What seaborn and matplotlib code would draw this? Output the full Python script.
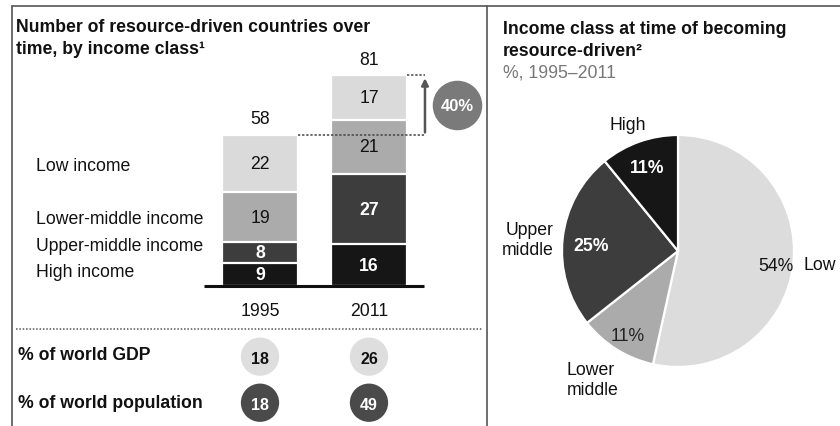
"""Resource-driven countries by income class: stacked bars + pie."""

import matplotlib

matplotlib.use("Agg")

import matplotlib.pyplot as plt
import numpy as np
import pandas as pd
import seaborn as sns
from matplotlib import transforms

# ---- data ----
years = ["1995", "2011"]
income_classes = ["High income", "Upper-middle income", "Lower-middle income", "Low income"]
high_income = [9, 16]
upper_middle = [8, 27]
lower_middle = [19, 21]
low_income = [22, 17]
growth_label = "40%"

gdp_share = [18, 26]
population_share = [18, 49]

pie_labels = ["Low", "Lower\nmiddle", "Upper\nmiddle", "High"]
pie_shares = [54, 11, 25, 11]

# greys, dark to light (bottom to top of the stack)
CLASS_COLOURS = ["#161616", "#3d3d3d", "#ababab", "#dadada"]
VALUE_COLOURS = ["white", "white", "#111111", "#111111"]
PIE_COLOURS = ["#dcdcdc", "#ababab", "#3d3d3d", "#161616"]

W, H = 840, 427
FONT = 12.7

sns.set_theme(style="white")
plt.rcParams["font.family"] = ["Liberation Sans", "DejaVu Sans"]
plt.rcParams["text.color"] = "#111111"


def fx(px):
    return px / W


def fy(px_from_top):
    return 1 - px_from_top / H


fig = plt.figure(figsize=(W / 100, H / 100), dpi=100)

# ---- frame ----
frame_kw = dict(color="#555555", lw=1.2, transform=fig.transFigure)
fig.add_artist(plt.Line2D([fx(12), fx(840)], [fy(7), fy(7)], **frame_kw))
fig.add_artist(plt.Line2D([fx(12), fx(12)], [fy(7), fy(427)], **frame_kw))
fig.add_artist(plt.Line2D([fx(487), fx(487)], [fy(7), fy(427)], **frame_kw))

# ---- stacked bars ----
stack = pd.DataFrame(
    {"year": years, **dict(zip(income_classes, [high_income, upper_middle, lower_middle, low_income]))}
)
cum = stack[income_classes].cumsum(axis=1)
totals = cum[income_classes[-1]]

px_per_unit = 2.6
base_px = 287
bar_ax = fig.add_axes([fx(204), fy(base_px), fx(424) - fx(204), 110 * px_per_unit / H])
# draw cumulative layers from the top down so each lower class overlays the one above
for cls, colour in reversed(list(zip(income_classes, CLASS_COLOURS))):
    sns.barplot(
        x=stack["year"], y=cum[cls], color=colour, width=0.7,
        edgecolor="white", linewidth=1.6, saturation=1, ax=bar_ax,
    )
bar_ax.set_xlim(-0.514, 1.505)
bar_ax.set_ylim(0, 110)
bar_ax.axis("off")
bar_ax.hlines(0, -0.514, 1.505, color="#111111", lw=2.2, clip_on=False, zorder=5)

for i, yr in enumerate(years):
    prev = 0
    for cls, tcol in zip(income_classes, VALUE_COLOURS):
        val = stack.loc[i, cls]
        bold = tcol == "white"
        bar_ax.text(i, prev + val / 2, str(val), ha="center", va="center", color=tcol,
                    fontsize=FONT, fontweight="bold" if bold else "normal")
        prev += val
    bar_ax.text(i, totals[i] + 3, str(totals[i]), ha="center", va="bottom", fontsize=FONT)
    bar_ax.text(i, -6, yr, ha="center", va="top", fontsize=FONT)

# growth marker: dotted guides, arrow and bubble
arrow_x = 1.514
bar_ax.hlines(totals[0], 0.35, arrow_x, colors="#444444", linestyles=(0, (1.5, 1.2)), lw=1.1, clip_on=False)
bar_ax.hlines(totals[1], 1.35, arrow_x, colors="#444444", linestyles=(0, (1.5, 1.2)), lw=1.1, clip_on=False)
bar_ax.annotate("", xy=(arrow_x, totals[1]), xytext=(arrow_x, totals[0]), annotation_clip=False,
                arrowprops=dict(arrowstyle="-|>", color="#555555", lw=1.8, mutation_scale=10))
bubble_y = (totals[0] + totals[1]) / 2
bar_ax.scatter([1.807], [bubble_y], s=1200, color="#7a7a7a", clip_on=False, zorder=4)
bar_ax.text(1.807, bubble_y, growth_label, ha="center", va="center", color="white",
            fontsize=FONT - 0.8, fontweight="bold", zorder=5)

# category labels on the left, level with their 1995 segments
lab_tr = transforms.blended_transform_factory(fig.transFigure, bar_ax.transData)
label_y = {"Low income": 46.5, "Lower-middle income": 26, "Upper-middle income": 15.5, "High income": 5.5}
for cls in income_classes:
    bar_ax.text(fx(36), label_y[cls], cls, transform=lab_tr, ha="left", va="center", fontsize=FONT)

# ---- titles ----
title_kw = dict(ha="left", va="center", fontsize=FONT, fontweight="bold")
fig.text(fx(16), fy(28), "Number of resource-driven countries over", **title_kw)
fig.text(fx(16), fy(50), "time, by income class\u00b9", **title_kw)
fig.text(fx(503), fy(29), "Income class at time of becoming", **title_kw)
fig.text(fx(503), fy(51), "resource-driven\u00b2", **title_kw)
fig.text(fx(503), fy(73), "%, 1995\u20132011", ha="left", va="center", fontsize=FONT, color="#777777")

# ---- share table below the bars ----
fig.add_artist(plt.Line2D([fx(16), fx(482)], [fy(330), fy(330)], color="#555555", lw=1.1,
                          linestyle=(0, (1, 1.2)), transform=fig.transFigure))
tab_ax = fig.add_axes([fx(204), 0, fx(424) - fx(204), 97 / H])
tab_ax.set_xlim(-0.514, 1.505)
tab_ax.set_ylim(1.5, -0.5)
tab_ax.axis("off")
rows = pd.DataFrame({
    "x": [0, 1, 0, 1],
    "row": [0, 0, 1, 1],
    "value": gdp_share + population_share,
    "kind": ["gdp", "gdp", "pop", "pop"],
})
tab_y = {0: 0.07, 1: 1.02}
sns.scatterplot(x=rows["x"], y=rows["row"].map(tab_y), hue=rows["kind"],
                palette={"gdp": "#dedede", "pop": "#4a4a4a"},
                s=760, linewidth=0, legend=False, ax=tab_ax, clip_on=False)
for _, r in rows.iterrows():
    tab_ax.text(r["x"], tab_y[r["row"]] + 0.04, str(r["value"]), ha="center", va="center",
                fontsize=FONT - 1.2, fontweight="bold",
                color="#111111" if r["kind"] == "gdp" else "white")
row_tr = transforms.blended_transform_factory(fig.transFigure, tab_ax.transData)
row_kw = dict(transform=row_tr, ha="left", va="center", fontsize=FONT, fontweight="bold")
tab_ax.text(fx(18), 0.02, "% of world GDP", **row_kw)
tab_ax.text(fx(18), 1.02, "% of world population", **row_kw)

# ---- pie ----
cx, cy, r = 678, 252, 116
pie_ax = fig.add_axes([fx(cx - r), fy(cy + r), 2 * r / W, 2 * r / H])
wedges, _ = pie_ax.pie(pie_shares, colors=PIE_COLOURS, startangle=90, counterclock=False,
                       wedgeprops=dict(edgecolor="white", linewidth=1.6))
pie_ax.set_xlim(-1, 1)
pie_ax.set_ylim(-1, 1)
pie_ax.axis("off")

inner = [
    (0.85, "#111111", "normal"),
    (0.82, "#222222", "normal"),
    (0.75, "white", "bold"),
    (0.80, "white", "bold"),
]
for w, share, (rad, col, weight) in zip(wedges, pie_shares, inner):
    ang = np.deg2rad((w.theta1 + w.theta2) / 2)
    pie_ax.text(rad * np.cos(ang), rad * np.sin(ang) - 0.03, f"{share}%", ha="center", va="center",
                color=col, fontsize=FONT, fontweight=weight, clip_on=False)

outer = {
    "Low": (1.08, -0.12, "left"),
    "Lower\nmiddle": (-0.96, -1.11, "left"),
    "Upper\nmiddle": (-1.07, 0.10, "right"),
    "High": (-0.43, 1.09, "center"),
}
for name in pie_labels:
    x, y, ha = outer[name]
    pie_ax.text(x, y, name, ha=ha, va="center", fontsize=FONT, linespacing=1.25, clip_on=False)

fig.savefig("out.png", dpi=100)
